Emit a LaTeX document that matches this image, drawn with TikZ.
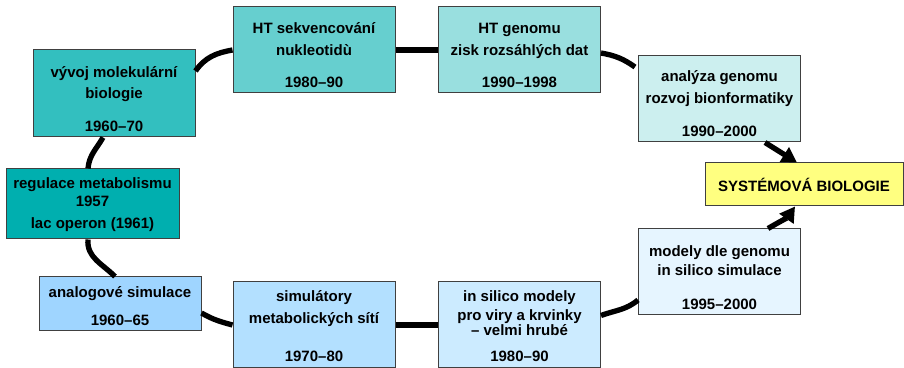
\documentclass[tikz,border=0pt]{standalone}
\usepackage{fontspec}
\setmainfont{Liberation Sans}
\usepackage{tikz}
\usetikzlibrary{arrows.meta}
\definecolor{molbiocol}{HTML}{33BFBF}
\definecolor{htsekcol}{HTML}{66CFCF}
\definecolor{htgencol}{HTML}{99DFDF}
\definecolor{analyzacol}{HTML}{CCEFEF}
\definecolor{regulacecol}{HTML}{00AFAF}
\definecolor{analogcol}{HTML}{9FD5FF}
\definecolor{simulcol}{HTML}{B3E0FF}
\definecolor{insilicocol}{HTML}{CCEBFF}
\definecolor{modelycol}{HTML}{E6F5FF}
\definecolor{sysbiocol}{HTML}{FFFF80}
\newcommand{\uppad}[1]{\rule{0pt}{#1}}
\newcommand{\lowpad}[1]{\rule[-#1]{0pt}{#1}}

\begin{document}
\begin{tikzpicture}[x = 0.6pt, y = 0.6pt]
\tikzstyle{mybox} = [draw = black!75, line width = 0.6pt, align = center, inner sep = 0pt, font = \bfseries\fontsize{9pt}{12pt}\selectfont, minimum width = 97.2pt, minimum height = 51.6pt]
\tikzstyle{myline} = [line width = 3.2pt]
\tikzset{myarrow/.style = {myline, -{Triangle[length = 9pt, width = 10pt]}}}
\useasboundingbox (0,0) rectangle (904,367);

\node [mybox, fill = molbiocol] (molbio) at (114, 273.5) {\uppad{16.8pt}vývoj molekulární\\[0.6pt]biologie\\[7.8pt]1960–70\lowpad{3pt}};
\node [mybox, fill = htsekcol] (htsek) at (314, 317) {\uppad{16.2pt}HT sekvencování\\[1.2pt]nukleotidù\\[7.2pt]1980–90\lowpad{3pt}};
\node [mybox, fill = htgencol] (htgen) at (519.5, 317) {\uppad{16.2pt}HT genomu\\[1.2pt]zisk rozsáhlých dat\\[7.2pt]1990–1998\lowpad{3pt}};
\node [mybox, fill = analyzacol] (analyza) at (719.5, 268) {\uppad{15.6pt}analýza genomu\\[1.2pt]rozvoj bionformatiky\\[7.8pt]1990–2000\lowpad{3pt}};
\node [mybox, fill = sysbiocol, minimum width = 118.8pt, minimum height = 25.8pt] (sysbio) at (804, 182.5) {SYSTÉMOVÁ BIOLOGIE};
\node [mybox, fill = regulacecol, minimum width = 103.8pt, minimum height = 42pt] (regulace) at (92.5, 163) {\uppad{12pt}regulace metabolismu\\[-1.2pt]1957\\[1.2pt]lac operon (1961)\lowpad{6pt}};
\node [mybox, fill = analogcol, minimum height = 32.4pt] (analog) at (120, 63) {\uppad{12.6pt}analogové simulace\\[4.8pt]1960–65\lowpad{3pt}};
\node [mybox, fill = simulcol] (simul) at (314, 42) {\uppad{12pt}simulátory\\[1.2pt]metabolických sítí\\[10.8pt]1970–80\lowpad{3.6pt}};
\node [mybox, fill = insilicocol] (insilico) at (519.5, 42) {\uppad{12pt}in silico modely\\[-1.2pt]pro viry a krvinky\\[-2.4pt]– velmi hrubé\\[3.6pt]1980–90\lowpad{3.6pt}};
\node [mybox, fill = modelycol] (modely) at (719.5, 95) {\uppad{16.2pt}modely dle genomu\\in silico simulace\\[8.4pt]1995–2000\lowpad{3pt}};

\draw [myline] ([xshift = -6.6pt] molbio.south) to [out = -120, in = 85] ([xshift = -2.7pt] regulace.north);
\draw [myline] ([xshift = -2.7pt] regulace.south) to [out = -95, in = 135] ([xshift = -3pt] analog.north);
\draw [myline] ([yshift = -5.4pt] analog.east) to [out = -30, in = 165] (simul.west);
\draw [myline] (simul) -- (insilico);
\draw [myline] ([yshift = 5.7pt] insilico.east) to [out = 20, in = 220] ([yshift = -16.8pt] modely.west);
\draw [myarrow] ([xshift = 29.1pt] modely.north) to [out = 30, in = 235] ([xshift = -5.4pt] sysbio.south);
\draw [myline] ([yshift = 13.5pt] molbio.east) to [out = 55, in = 190] (htsek.west);
\draw [myline] (htsek) -- (htgen);
\draw [myline] ([yshift = -1.8pt] htgen.east) to [out = -10, in = 145] ([xshift = -1.8pt, yshift = 19.2pt] analyza.west);
\draw [myarrow] ([xshift = 27.3pt] analyza.south) -- ([xshift = -4.2pt] sysbio.north);
\end{tikzpicture}
\end{document}
